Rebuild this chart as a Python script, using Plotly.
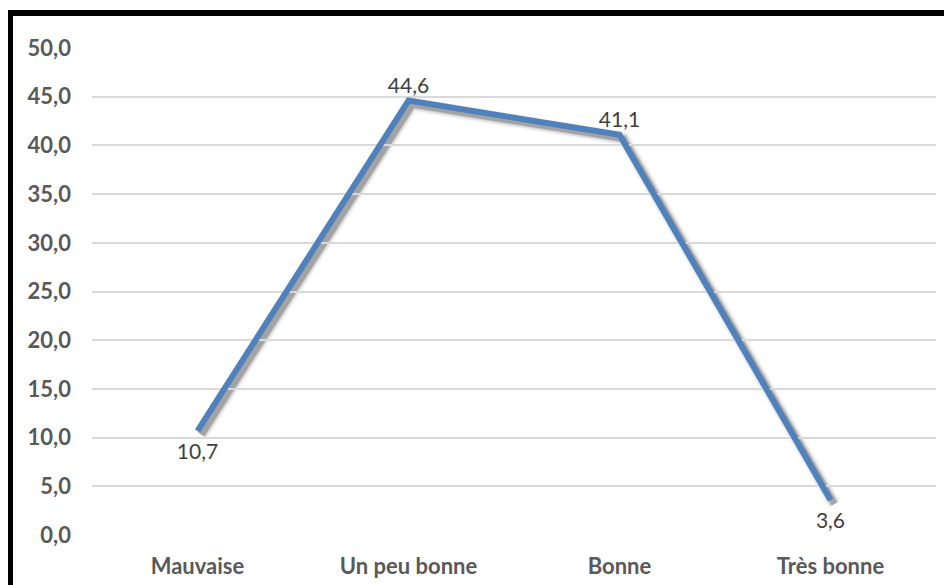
import plotly.graph_objects as go

categories = ["Mauvaise", "Un peu bonne", "Bonne", "Très bonne"]
values = [10.7, 44.6, 41.1, 3.6]
label_pos = ["bottom center", "top center", "top center", "bottom center"]

# page body has an 8px margin, so the figure is drawn 8px in and 8px down
W, H = 944, 577
off = 4  # shadow offset, px
ml, mr, mt, mb = 84, 16 - off, 40, 50 - off
pw, ph = W - ml - mr, H - mt - mb
dx, dy = off / pw, off / ph

fig = go.Figure()

# soft shadow under the line (drawn on its own, slightly shifted axes)
for w, a in [(14, 0.04), (11, 0.07), (8, 0.12), (6, 0.18)]:
    fig.add_trace(go.Scatter(
        x=categories, y=values, mode="lines",
        line=dict(color=f"rgba(0,0,0,{a})", width=w),
        xaxis="x", yaxis="y", hoverinfo="skip",
    ))

# invisible markers only to push the labels away from the line
gap = [18 if p.startswith("bottom") else 2 for p in label_pos]
fig.add_trace(go.Scatter(
    x=categories, y=values, mode="lines+markers+text",
    line=dict(color="#4F81BD", width=6),
    marker=dict(size=gap, color="rgba(0,0,0,0)", line=dict(width=0)),
    texttemplate="%{y:.1f}", textposition=label_pos,
    textfont=dict(size=21, color="#404040"),
    xaxis="x2", yaxis="y2",
))

yax = dict(range=[0, 50], dtick=5, tickformat=".1f", automargin=False)
xax = dict(type="category", range=[-0.5, 3.5], automargin=False)
fig.update_layout(
    width=W, height=H,
    margin=dict(l=ml, r=mr, t=mt, b=mb),
    paper_bgcolor="white", plot_bgcolor="rgba(0,0,0,0)",
    showlegend=False,
    separators=", ",
    font=dict(family="Lato, Open Sans, sans-serif"),
    xaxis=dict(**xax, domain=[dx, 1], visible=False, anchor="y"),
    yaxis=dict(**yax, domain=[0, 1 - dy], visible=False, anchor="x"),
    xaxis2=dict(**xax, showgrid=False, showline=False, ticks="",
                tickfont=dict(size=22, color="#595959", weight="bold"),
                ticklabelstandoff=16,
                domain=[0, 1 - dx], anchor="y2"),
    yaxis2=dict(**yax, showgrid=True, gridcolor="#D9D9D9", gridwidth=2,
                zeroline=False, showline=False, ticks="",
                tickfont=dict(size=22, color="#595959", weight="bold"),
                ticklabelstandoff=20, domain=[dy, 1], anchor="x2"),
)

# outer frame, running off the right and bottom edges
fig.add_shape(type="rect", xref="paper", yref="paper",
              x0=(2 - ml) / pw, x1=1.1, y0=-0.2, y1=1 + 35 / ph,
              line=dict(color="black", width=6), layer="above")

fig.write_html("out.html")
